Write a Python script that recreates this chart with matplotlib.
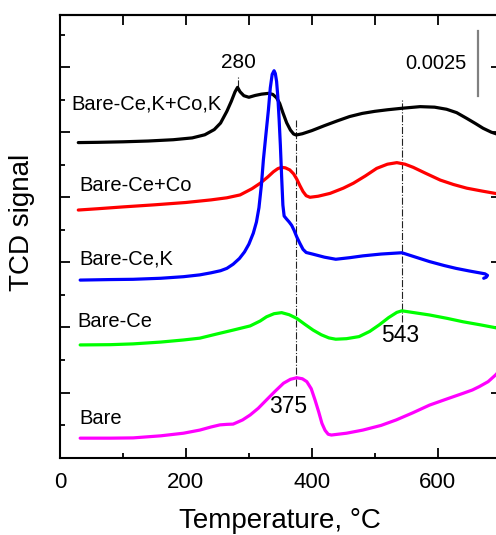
import matplotlib
matplotlib.use("Agg")
import matplotlib.pyplot as plt
from matplotlib.ticker import MultipleLocator

plt.rcParams['font.family'] = ['Liberation Sans', 'DejaVu Sans']

# TPR profiles: temperature (°C) and TCD signal (offset traces)
t_cokco = [29, 60, 100, 140, 180, 210, 230, 245, 255, 265, 272, 278, 282, 286, 292,
           300, 310, 320, 331, 338, 344, 349, 354, 360, 366, 371, 375, 385, 400, 420,
           440, 460, 480, 500, 520, 544, 572, 595, 614, 630, 646, 660, 672, 685, 700]
s_cokco = [0.01210, 0.01211, 0.01213, 0.01216, 0.01221, 0.01228, 0.01240, 0.01260,
           0.01285, 0.01330, 0.01368, 0.01405, 0.01422, 0.01405, 0.01390, 0.01384,
           0.01391, 0.01396, 0.01399, 0.01395, 0.01382, 0.01360, 0.01325, 0.01286,
           0.01258, 0.01243, 0.01239, 0.01244, 0.01256, 0.01275, 0.01293, 0.01310,
           0.01322, 0.01330, 0.01336, 0.01342, 0.01348, 0.01346, 0.01338, 0.01325,
           0.01303, 0.01283, 0.01265, 0.01250, 0.01238]

t_ceco = [29, 60, 100, 150, 200, 240, 265, 286, 305, 318, 330, 339, 346, 352, 358,
          365, 371, 376, 381, 386, 391, 397, 410, 429, 450, 466, 485, 503, 520, 535,
          548, 561, 580, 604, 625, 646, 670, 691, 700]
s_ceco = [0.00951, 0.00956, 0.00963, 0.00971, 0.00980, 0.00990, 0.00998, 0.01009,
          0.01033, 0.01054, 0.01078, 0.01098, 0.01110, 0.01115, 0.01113, 0.01105,
          0.01090, 0.01070, 0.01045, 0.01022, 0.01006, 0.01000, 0.01004, 0.01015,
          0.01035, 0.01054, 0.01082, 0.01111, 0.01127, 0.01133, 0.01127, 0.01115,
          0.01093, 0.01066, 0.01049, 0.01035, 0.01024, 0.01015, 0.01011]

t_cek = [32, 80, 116, 160, 196, 222, 240, 255, 265, 275, 285, 293, 300, 307, 312,
         316, 320, 323, 327, 331, 334, 337, 340, 342, 344, 346, 348, 350, 352, 354,
         356, 360, 364, 368, 372, 376, 381, 386, 391, 401, 420, 438, 460, 481, 510,
         543, 565, 587, 610, 629, 650, 666, 675, 679, 677, 673]
s_cek = [0.00682, 0.00684, 0.00685, 0.00689, 0.00695, 0.00702, 0.00710, 0.00718,
         0.00727, 0.00743, 0.00765, 0.00790, 0.00820, 0.00862, 0.00905, 0.00960,
         0.01050, 0.01143, 0.01240, 0.01335, 0.01420, 0.01472, 0.01486, 0.01475,
         0.01445, 0.01385, 0.01300, 0.01200, 0.01080, 0.00970, 0.00928, 0.00916,
         0.00905, 0.00892, 0.00872, 0.00848, 0.00823, 0.00800, 0.00788, 0.00782,
         0.00770, 0.00762, 0.00768, 0.00775, 0.00782, 0.00787, 0.00770, 0.00753,
         0.00738, 0.00727, 0.00717, 0.00710, 0.00706, 0.00700, 0.00693, 0.00689]

t_ce = [32, 80, 116, 160, 196, 222, 249, 275, 302, 318, 328, 340, 352, 364, 376,
        389, 402, 415, 427, 438, 455, 475, 492, 507, 522, 535, 543, 565, 587, 615,
        640, 668, 692, 700]
s_ce = [0.00433, 0.00434, 0.00437, 0.00444, 0.00452, 0.00459, 0.00475, 0.00490,
        0.00506, 0.00525, 0.00541, 0.00553, 0.00557, 0.00549, 0.00535, 0.00512,
        0.00490, 0.00472, 0.00460, 0.00455, 0.00457, 0.00465, 0.00485, 0.00510,
        0.00538, 0.00558, 0.00564, 0.00556, 0.00548, 0.00535, 0.00522, 0.00510,
        0.00499, 0.00495]

t_bare = [32, 80, 116, 160, 196, 222, 240, 254, 265, 275, 290, 302, 315, 328, 342,
          355, 366, 376, 385, 392, 399, 405, 411, 416, 421, 426, 431, 455, 481, 510,
          534, 560, 587, 615, 640, 655, 666, 680, 692, 700]
s_bare = [0.00075, 0.00075, 0.00076, 0.00084, 0.00094, 0.00106, 0.00118, 0.00126,
          0.00128, 0.00129, 0.00145, 0.00164, 0.00190, 0.00222, 0.00256, 0.00286,
          0.00301, 0.00307, 0.00303, 0.00292, 0.00265, 0.00222, 0.00175, 0.00132,
          0.00105, 0.00090, 0.00087, 0.00094, 0.00106, 0.00124, 0.00145, 0.00172,
          0.00202, 0.00226, 0.00247, 0.00260, 0.00273, 0.00292, 0.00318, 0.00340]

series = [
    (t_cokco, s_cokco, 'black', 'Bare-Ce,K+Co,K', (18.6, 0.01358)),
    (t_ceco, s_ceco, '#ff0000', 'Bare-Ce+Co', (31, 0.01045)),
    (t_cek, s_cek, '#0000ff', 'Bare-Ce,K', (30, 0.00763)),
    (t_ce, s_ce, '#00ff00', 'Bare-Ce', (28, 0.00524)),
    (t_bare, s_bare, '#ff00ff', 'Bare', (30, 0.00151)),
]

# Peak markers: (temperature, y from, y to)
peak_lines = [(282, 0.01424, 0.01462), (375, 0.00275, 0.01297), (543, 0.00520, 0.01378)]
peak_labels = [('280', 283, 0.01495, 15), ('375', 363, 0.00197, 16.5),
               ('543', 540, 0.00471, 16.5)]
scale_value = 0.0025
scale_x = 664
scale_base = 0.0139

fig = plt.figure(figsize=(4.96, 5.35), dpi=100)
ax = fig.add_axes([0.121, 0.1445, 0.8885, 0.8275])

for t, s, c, name, (lx, ly) in series:
    ax.plot(t, s, color=c, lw=2.3, solid_capstyle='round', solid_joinstyle='round',
            zorder=3)
    ax.text(lx, ly, name, fontsize=14.5, ha='left', va='center')

for x, y0, y1 in peak_lines:
    ax.plot([x, x], [y0, y1], color='#222222', lw=0.8, ls='-.', zorder=2)

for txt, x, y, fs in peak_labels:
    va = 'baseline' if txt == '280' else 'center'
    ax.text(x, y, txt, fontsize=fs, ha='center', va=va)

ax.plot([scale_x, scale_x], [scale_base, scale_base + scale_value],
        color='#808080', lw=1.6)
ax.text(645, scale_base + scale_value / 2, f'{scale_value}', fontsize=14.5,
        ha='right', va='center')

ax.set_xlim(0, 700)
ax.set_ylim(0, 0.017)
ax.xaxis.set_major_locator(MultipleLocator(200))
ax.xaxis.set_minor_locator(MultipleLocator(100))
ax.yaxis.set_major_locator(MultipleLocator(0.0025))
ax.yaxis.set_minor_locator(MultipleLocator(0.00125))
ax.tick_params(which='major', direction='in', length=7, width=1.3,
               labelsize=16, pad=10, left=True, right=True, bottom=True, top=False,
               labelleft=False)
ax.tick_params(which='minor', direction='in', length=3.5, width=1.3,
               left=True, right=True, bottom=True, top=False)

top = ax.secondary_xaxis('top')
top.set_xticks(list(range(100, 701, 100)))
top.tick_params(direction='in', length=7, width=1.3, labeltop=False)
top.spines['top'].set_linewidth(1.5)

for sp in ax.spines.values():
    sp.set_linewidth(1.5)

ax.set_xlabel('Temperature, °C', fontsize=20, labelpad=11)
ax.set_ylabel('TCD signal', fontsize=20)
ax.yaxis.set_label_coords(-0.057, 0.531)

fig.savefig('out.png', dpi=100)
